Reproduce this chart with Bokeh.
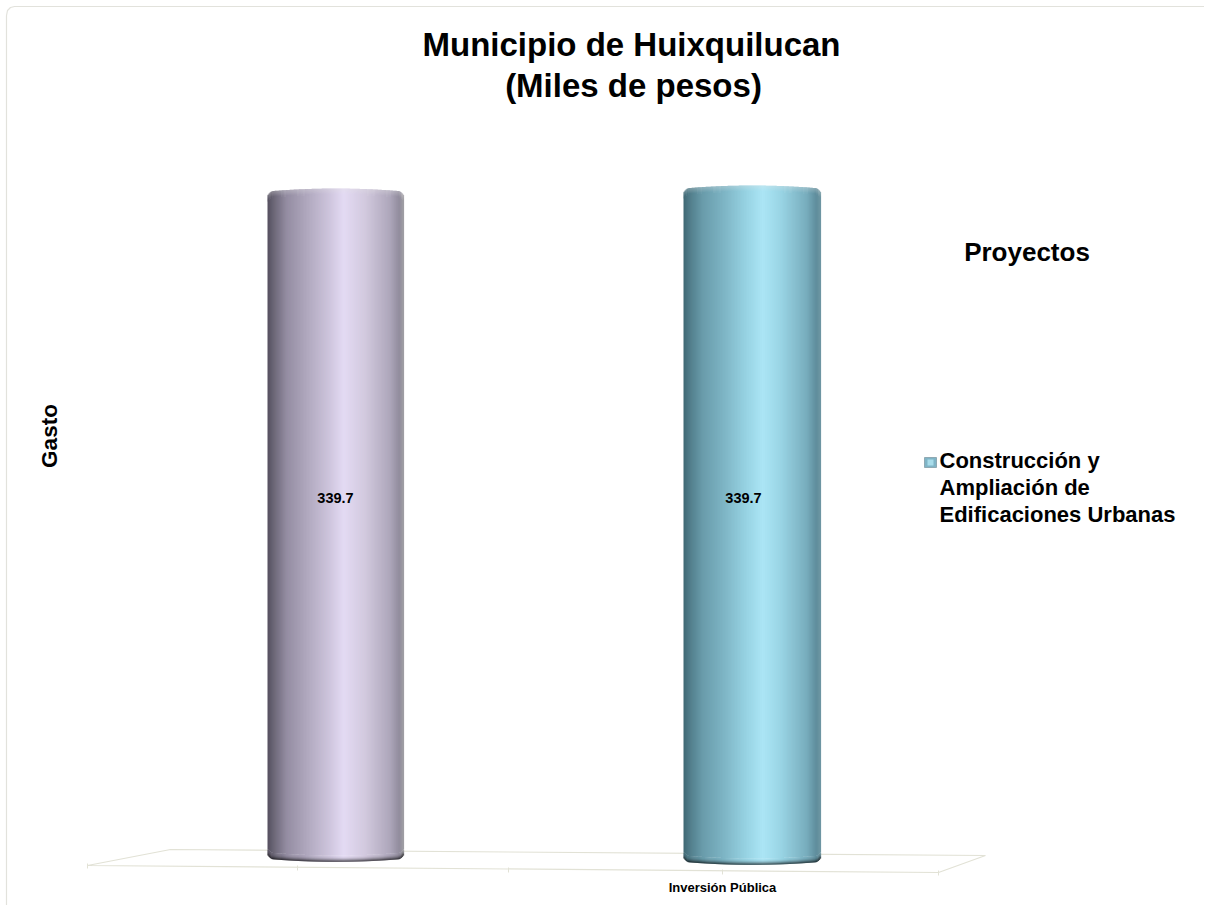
import numpy as np
from bokeh.plotting import figure
from bokeh.models import Range1d
from bokeh.core.properties import value
from bokeh.embed import file_html
from bokeh.resources import INLINE

# data
bar_labels = ["339.7", "339.7"]
bar_values = [339.7, 339.7]
category = "Inversión Pública"
legend_lines = ["Construcción y", "Ampliación de", "Edificaciones Urbanas"]
title_lines = ["Municipio de Huixquilucan", "(Miles de pesos)"]
y_title = "Gasto"
legend_title = "Proyectos"

# gradient stops (position across bar, colour)
purple = [(0, "#55505f"), (.05, "#6e6979"), (.14, "#948da2"), (.3, "#b2aac0"), (.45, "#cdc4dc"), (.56, "#e4dbf4"),
          (.72, "#d2c9de"), (.9, "#aea7bb"), (.97, "#918c9d"), (1, "#a0a0a4")]
teal = [(0, "#3f6874"), (.05, "#537f8c"), (.14, "#6a9cab"), (.3, "#7fb6c6"), (.45, "#96d2e2"), (.58, "#ace6f6"),
        (.72, "#98d3e3"), (.9, "#78adbd"), (.97, "#5f8d9c"), (1, "#6f97a3")]

W, H = 1204, 905
p = figure(width=W, height=H, output_backend="svg", toolbar_location=None,
           x_range=Range1d(0, W), y_range=Range1d(H, 0),
           min_border=0, outline_line_color=None, background_fill_color="white")
p.axis.visible = False
p.grid.visible = False

# value scale: 0 sits on floor, 339.7 at the top of the cylinder
PX0, PXV = 852.0, 192.0
def vy(v):
    return PX0 + (PXV - PX0) * v / 339.7

def hex2rgb(c):
    return np.array([int(c[i:i + 2], 16) for i in (1, 3, 5)], float)

def shade(stops, t):
    pos = [s[0] for s in stops]
    cols = np.array([hex2rgb(s[1]) for s in stops])
    return np.array([np.interp(t, pos, cols[:, k]) for k in range(3)])

def tohex(c):
    c = np.clip(c, 0, 255).astype(int)
    return "#%02x%02x%02x" % tuple(c)

def cylinder(x0, x1, val, stops, top_off, bot_off):
    n = int(x1 - x0)
    xs = np.linspace(x0, x1, n + 1)
    L, R, Tp, B, C = [], [], [], [], []
    for a, b in zip(xs[:-1], xs[1:]):
        t = ((a + b) / 2 - x0) / (x1 - x0)
        u = abs(2 * t - 1)
        # rounded shoulder and elliptical cap
        top_y = vy(val) + top_off + 3 * u ** 2 + 4 * max(0, (u - .92) / .08) ** 2
        bot_y = vy(0) + bot_off + 9 - 3 * u ** 2 - 4 * max(0, (u - .92) / .08) ** 2
        base = shade(stops, t)
        # main body strip
        L.append(a); R.append(b + .6); Tp.append(top_y + 6); B.append(bot_y - 6); C.append(tohex(base))
        # cap highlight layers
        for i in range(6):
            f = i / 5
            L.append(a); R.append(b + .6)
            Tp.append(top_y + i); B.append(top_y + i + 1.4)
            mix = .72 + .28 * f
            C.append(tohex(base * mix + 255 * (1 - mix) * .9))
        # bottom rim darkening
        for i in range(6):
            f = i / 5
            L.append(a); R.append(b + .6)
            Tp.append(bot_y - 6 + i); B.append(bot_y - 6 + i + 1.4)
            C.append(tohex(base * (1 - .55 * f ** 2)))
    p.quad(left=L, right=R, top=Tp, bottom=B, fill_color=C, line_color=None)

# chart border (top and left, with rounded corner)
border_c = "#e2e2dc"
p.line([6, 6, 7, 10, 14, W], [H, 15, 10, 7, 6, 6], line_color=border_c, line_width=1.2)

# floor
floor_c = "#e2e2d6"
p.line([87, 170, 985, 938, 87], [865, 849, 855, 872, 865], line_color=floor_c, line_width=1.2)
for x, y in [(87, 865), (297, 867), (508, 869), (722, 871), (938, 872)]:
    p.line([x, x], [y - 2, y + 3], line_color=floor_c, line_width=1)

cylinder(267, 403, bar_values[0], purple, -4, 0)
cylinder(683, 820, bar_values[1], teal, -7, 3)

font = value("Liberation Sans")
def txt(x, y, s, size, align="center", angle=0):
    p.text([x], [y], text=[s], text_font=font, text_font_size=f"{size}px", text_font_style="bold",
           text_color="#000000", text_align=align, text_baseline="middle", angle=angle)

txt(631, 44, title_lines[0], 33)
txt(633, 85, title_lines[1], 33)
txt(1026.5, 251, legend_title, 26)
txt(48.5, 435.5, y_title, 22.5, angle=np.pi / 2)
txt(335, 497, bar_labels[0], 14.5)
txt(743, 497, bar_labels[1], 14.5)
txt(722, 887, category, 13)
for ln, y in zip(legend_lines, [460, 487, 514]):
    txt(939, y, ln, 22, "left")

# legend swatch
p.quad(left=[924], right=[936], top=[457], bottom=[467], fill_color="#7fb4c6", line_color="#8fa9b3", line_width=1)
p.quad(left=[927], right=[933], top=[459], bottom=[465], fill_color="#a8dcea", line_color=None)

open("out.html", "w").write(file_html(p, INLINE))
